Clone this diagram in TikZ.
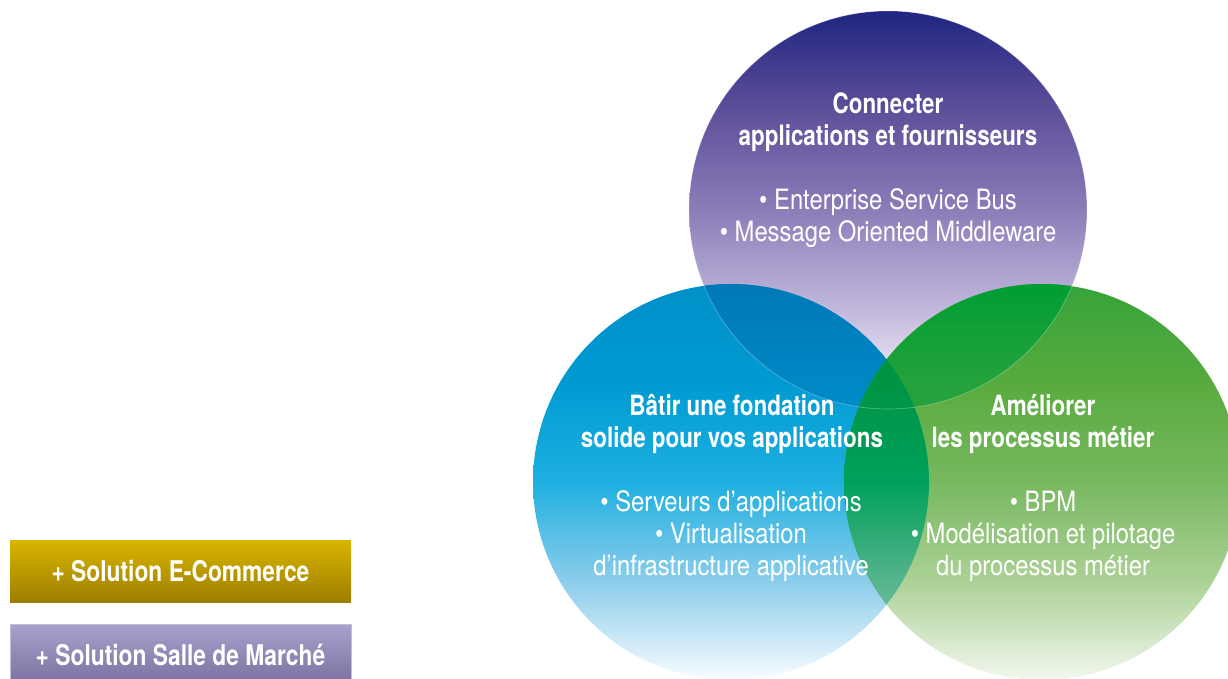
\documentclass[tikz,border=0pt]{standalone}
\usepackage{fontspec}
\setmainfont{TeX Gyre Heros}[UprightFeatures={FakeStretch=0.85},BoldFeatures={FakeStretch=0.8}]
\usepackage{xcolor}
\usepackage{tikz}

\definecolor{goldtop}{HTML}{D9B500}
\definecolor{goldbot}{HTML}{9C7E00}
\definecolor{lilatop}{HTML}{A9A1CD}
\definecolor{lilabot}{HTML}{7A6F9E}

% vertical fades for the three circles and their overlaps
\pgfdeclareverticalshading{connfade}{100bp}{color(0bp)=(white); color(25bp)=(white);
  color(37.5bp)=(rgb,255:red,194;green,184;blue,220); color(50bp)=(rgb,255:red,139;green,125;blue,184);
  color(62.5bp)=(rgb,255:red,94;green,79;blue,154); color(75bp)=(rgb,255:red,31;green,37;blue,128);
  color(100bp)=(rgb,255:red,31;green,37;blue,128)}
\pgfdeclareverticalshading{batirfade}{100bp}{color(0bp)=(white); color(25bp)=(rgb,255:red,248;green,252;blue,255);
  color(37.5bp)=(rgb,255:red,140;green,205;blue,235); color(50bp)=(rgb,255:red,30;green,176;blue,224);
  color(62.5bp)=(rgb,255:red,0;green,154;blue,210); color(75bp)=(rgb,255:red,0;green,144;blue,200);
  color(100bp)=(rgb,255:red,0;green,144;blue,200)}
\pgfdeclareverticalshading{amelfade}{100bp}{color(0bp)=(white); color(25bp)=(rgb,255:red,242;green,247;blue,238);
  color(37.5bp)=(rgb,255:red,172;green,209;blue,150); color(50bp)=(rgb,255:red,120;green,184;blue,96);
  color(62.5bp)=(rgb,255:red,88;green,171;blue,62); color(75bp)=(rgb,255:red,54;green,163;blue,58);
  color(100bp)=(rgb,255:red,54;green,163;blue,58)}
\pgfdeclareverticalshading{bcfade}{100bp}{color(0bp)=(rgb,255:red,0;green,150;blue,206); color(50bp)=(rgb,255:red,0;green,146;blue,204);
  color(62.5bp)=(rgb,255:red,0;green,136;blue,196); color(75bp)=(rgb,255:red,0;green,120;blue,184);
  color(100bp)=(rgb,255:red,0;green,120;blue,184)}
\pgfdeclareverticalshading{acfade}{100bp}{color(0bp)=(rgb,255:red,48;green,164;blue,64); color(50bp)=(rgb,255:red,48;green,164;blue,64);
  color(62.5bp)=(rgb,255:red,36;green,162;blue,60); color(75bp)=(rgb,255:red,0;green,158;blue,50);
  color(100bp)=(rgb,255:red,0;green,158;blue,50)}
\pgfdeclareverticalshading{bafade}{100bp}{color(0bp)=(rgb,255:red,160;green,208;blue,184); color(25bp)=(rgb,255:red,160;green,208;blue,184);
  color(37.5bp)=(rgb,255:red,86;green,180;blue,140); color(50bp)=(rgb,255:red,0;green,160;blue,92);
  color(62.5bp)=(rgb,255:red,0;green,148;blue,68); color(75bp)=(rgb,255:red,0;green,140;blue,56);
  color(100bp)=(rgb,255:red,0;green,140;blue,56)}

\tikzset{
  titre/.style={text=white,align=center,font=\fontsize{28}{32}\selectfont\bfseries,inner sep=0pt},
  liste/.style={text=white,align=center,font=\fontsize{28}{32}\selectfont,inner sep=0pt},
  solbox/.style={minimum width=341,minimum height=62,inner sep=0pt,text=white,
    font=\fontsize{28.5}{32}\selectfont\bfseries}
}

\begin{document}
\begin{tikzpicture}[x=1pt,y=-1pt]
\useasboundingbox (0,0) rectangle (1228,679);

\shade[shading=connfade](888,210) circle[radius=199];
\shade[shading=batirfade](731,482) circle[radius=198];
\shade[shading=amelfade](1042,482) circle[radius=198];

% overlaps
\begin{scope}
\clip(888,210) circle[radius=199];
\shade[shading=bcfade](731,482) circle[radius=198];
\shade[shading=acfade](1042,482) circle[radius=198];
\end{scope}
\begin{scope}
\clip(731,482) circle[radius=198];
\shade[shading=bafade](1042,482) circle[radius=198];
\end{scope}
\draw[white,opacity=0.35,line width=0.6pt](888,210) circle[radius=199];

\node[titre] (conntitre) at (888,122) {Connecter\\applications et fournisseurs};
\node[liste] (connliste) at (888,218) {• Enterprise Service Bus\\• Message Oriented Middleware};
\node[titre] (batirtitre) at (732,424) {Bâtir une fondation\\solide pour vos applications};
\node[liste] (batirliste) at (731,536) {• Serveurs d’applications\\• Virtualisation\\d’infrastructure applicative};
\node[titre] (ameltitre) at (1043,424) {Améliorer\\les processus métier};
\node[liste] (amelliste) at (1043,536) {• BPM\\• Modélisation et pilotage\\du processus métier};

\node[solbox,top color=goldtop,bottom color=goldbot] (ecom) at (180.5,571) {+ Solution E-Commerce};
\node[solbox,top color=lilatop,bottom color=lilabot,draw=lilatop!70!white,line width=1pt] (salle) at (180.5,655) {+ Solution Salle de Marché};
\end{tikzpicture}
\end{document}
